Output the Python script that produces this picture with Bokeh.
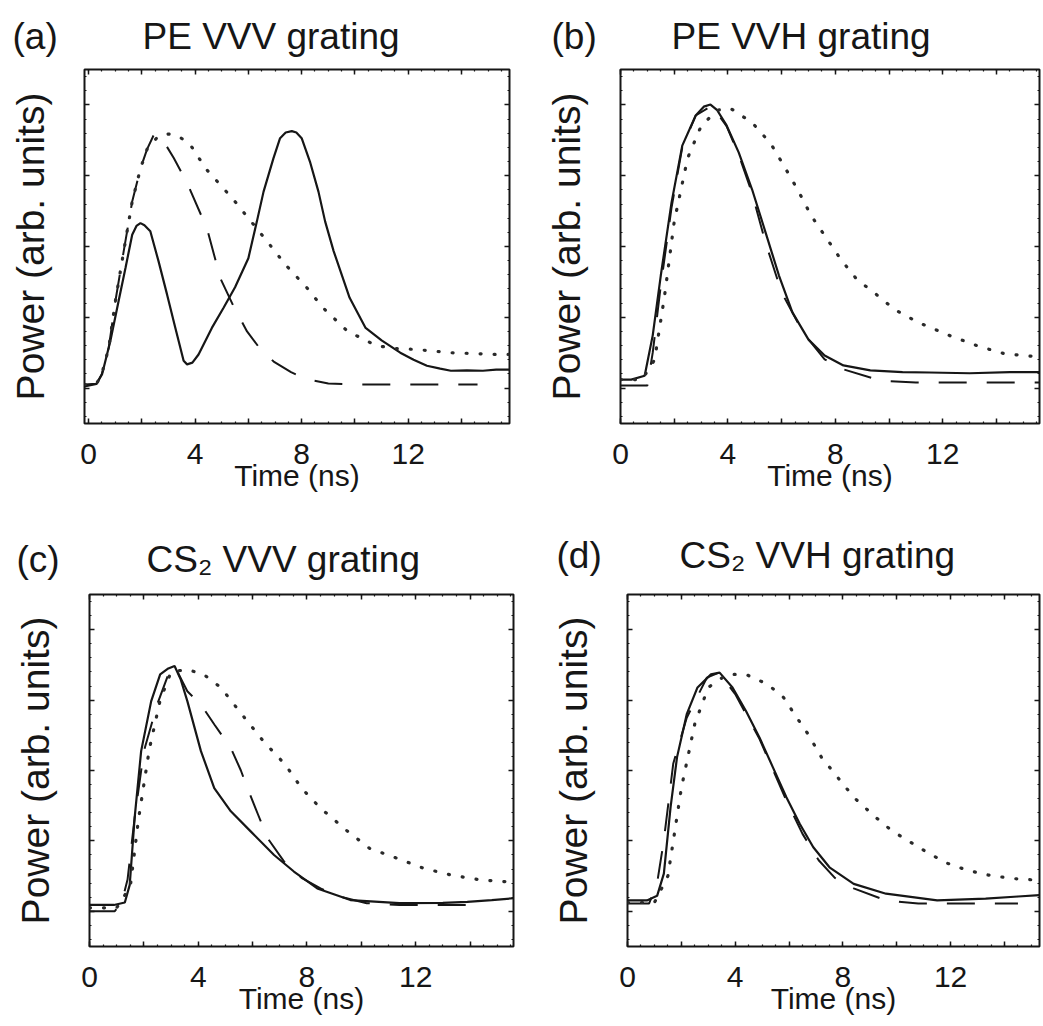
import numpy as np
from bokeh.plotting import figure
from bokeh.layouts import column, row
from bokeh.models import LinearAxis, SingleIntervalTicker, FixedTicker, Range1d, CustomLabelingPolicy
from bokeh.core.properties import value
from bokeh.embed import file_html
from bokeh.resources import INLINE

FONT = "Liberation Sans"
INK = "#161616"

# ---------------- data (time in ns, power in arb. units) ----------------
# (a) PE VVV grating
a_solid_t = [-0.15, 0.3, 0.51, 0.82, 1.13, 1.39, 1.64, 1.8, 1.95, 2.1, 2.32, 2.63, 2.95, 3.26, 3.57, 3.7, 3.9, 4.13,
             4.63, 5.07, 5.5, 6.0, 6.32, 6.57, 6.94, 7.19, 7.4, 7.63, 7.8, 8.0, 8.31, 8.63, 8.88, 9.2, 9.8, 10.4, 11.0,
             11.7, 12.2, 12.7, 13.2, 13.6, 14.2, 14.8, 15.3, 15.8]
a_solid_y = [0.105, 0.112, 0.139, 0.233, 0.346, 0.44, 0.533, 0.558, 0.566, 0.56, 0.543, 0.458, 0.364, 0.27, 0.177,
             0.167, 0.172, 0.195, 0.27, 0.327, 0.385, 0.467, 0.571, 0.655, 0.749, 0.806, 0.822, 0.826, 0.822, 0.806,
             0.74, 0.655, 0.571, 0.487, 0.355, 0.27, 0.235, 0.2, 0.18, 0.163, 0.155, 0.149, 0.15, 0.149, 0.152, 0.152]
a_dash_t = [-0.15, 0.3, 0.5, 0.76, 1.01, 1.32, 1.64, 1.95, 2.2, 2.45, 2.7, 3.2, 3.7, 4.45, 4.95, 5.45, 5.95, 6.45,
            6.95, 7.6, 8.2, 9.0, 10.0, 12.0, 14.6]
a_dash_y = [0.11, 0.112, 0.14, 0.214, 0.346, 0.486, 0.627, 0.72, 0.775, 0.815, 0.812, 0.75, 0.68, 0.55, 0.41, 0.33,
            0.26, 0.21, 0.175, 0.145, 0.125, 0.113, 0.11, 0.11, 0.11]
a_dot_t = [-0.15, 0.3, 0.5, 0.76, 1.01, 1.32, 1.64, 1.95, 2.2, 2.6, 3.0, 3.4, 3.8, 4.4, 5.4, 6.0, 6.7, 7.4, 8.2,
           8.8, 9.7, 10.4, 10.8, 11.5, 12.3, 13.6, 15.4, 15.8]
a_dot_y = [0.11, 0.112, 0.14, 0.214, 0.346, 0.486, 0.627, 0.72, 0.775, 0.81, 0.818, 0.81, 0.79, 0.72, 0.636, 0.58,
           0.515, 0.448, 0.383, 0.327, 0.262, 0.235, 0.22, 0.212, 0.209, 0.2, 0.195, 0.195]

# (b) PE VVH grating
b_solid_t = [0, 0.4, 0.9, 1.2, 1.5, 1.9, 2.3, 2.8, 3.1, 3.35, 3.6, 3.95, 4.4, 4.9, 5.4, 5.9, 6.4, 7.0, 7.6, 8.3, 9.3,
             10.5, 11.5, 13.0, 14.5, 15.6]
b_solid_y = [0.124, 0.124, 0.135, 0.249, 0.418, 0.624, 0.785, 0.87, 0.895, 0.901, 0.885, 0.842, 0.766, 0.661, 0.54,
             0.418, 0.314, 0.237, 0.192, 0.164, 0.15, 0.145, 0.144, 0.142, 0.145, 0.145]
b_dash_t = [0, 1.0, 1.2, 1.5, 1.9, 2.3, 2.8, 3.4, 3.95, 4.4, 4.9, 5.4, 6.0, 6.8, 7.6, 8.3, 9.7, 11.0, 13.0, 15.6]
b_dash_y = [0.107, 0.107, 0.2, 0.39, 0.61, 0.78, 0.87, 0.898, 0.84, 0.76, 0.65, 0.511, 0.37, 0.257, 0.181, 0.153,
            0.121, 0.116, 0.116, 0.116]
b_dot_t = [0, 0.8, 1.27, 1.64, 2.0, 2.5, 3.0, 3.6, 4.1, 4.9, 5.6, 6.1, 6.6, 7.1, 7.7, 8.2, 8.8, 9.6, 10.2, 11.1, 12.3,
           13.3, 14.3, 15.3, 15.6]
b_dot_y = [0.124, 0.124, 0.18, 0.36, 0.57, 0.75, 0.84, 0.885, 0.89, 0.85, 0.79, 0.726, 0.66, 0.587, 0.52, 0.464,
           0.407, 0.36, 0.322, 0.285, 0.247, 0.219, 0.197, 0.19, 0.19]

# (c) CS2 VVV grating
c_solid_t = [0, 0.9, 1.3, 1.48, 1.66, 1.9, 2.27, 2.6, 2.9, 3.13, 3.35, 3.6, 4.1, 4.59, 5.2, 5.93, 6.79, 7.52, 8.38,
             9.6, 11.4, 13.0, 13.9, 14.8, 15.6]
c_solid_y = [0.118, 0.118, 0.125, 0.175, 0.365, 0.555, 0.697, 0.773, 0.79, 0.797, 0.76, 0.697, 0.555, 0.45, 0.384,
             0.327, 0.26, 0.213, 0.165, 0.132, 0.123, 0.124, 0.127, 0.132, 0.137]
c_dash_t = [0, 0.93, 1.2, 1.4, 1.66, 2.0, 2.5, 2.9, 3.13, 3.6, 4.1, 4.6, 5.2, 5.57, 5.81, 6.2, 6.55, 7.16, 7.8, 8.5,
            9.3, 10.2, 11.4, 14.5]
c_dash_y = [0.1, 0.1, 0.13, 0.19, 0.365, 0.555, 0.69, 0.773, 0.797, 0.725, 0.687, 0.63, 0.564, 0.5, 0.45, 0.375,
            0.308, 0.241, 0.195, 0.165, 0.14, 0.123, 0.118, 0.118]
c_dot_t = [0, 1.0, 1.5, 1.8, 2.2, 2.6, 3.0, 3.6, 4.2, 4.84, 5.6, 6.4, 7.2, 7.8, 8.5, 9.5, 10.3, 11.3, 12.3, 13.3,
           14.4, 15.3, 15.6]
c_dot_y = [0.11, 0.11, 0.17, 0.36, 0.56, 0.7, 0.78, 0.787, 0.773, 0.735, 0.66, 0.583, 0.517, 0.45, 0.393, 0.327,
           0.279, 0.251, 0.222, 0.203, 0.189, 0.184, 0.184]

# (d) CS2 VVH grating
d_solid_t = [0, 0.72, 1.1, 1.35, 1.6, 1.84, 2.2, 2.6, 3.1, 3.42, 3.9, 4.4, 4.9, 5.4, 5.9, 6.4, 6.9, 7.5, 8.4, 9.6,
             11.5, 13.3, 14.5, 15.3]
d_solid_y = [0.131, 0.131, 0.144, 0.207, 0.396, 0.538, 0.66, 0.736, 0.773, 0.778, 0.736, 0.669, 0.594, 0.509, 0.424,
             0.348, 0.282, 0.225, 0.178, 0.15, 0.131, 0.136, 0.142, 0.146]
d_dash_t = [0, 0.8, 1.1, 1.35, 1.7, 2.2, 2.95, 3.4, 4.0, 4.9, 5.9, 6.5, 7.1, 7.7, 8.4, 9.6, 10.8, 14.5]
d_dash_y = [0.122, 0.122, 0.18, 0.302, 0.52, 0.65, 0.764, 0.778, 0.717, 0.59, 0.415, 0.32, 0.245, 0.195, 0.165,
            0.131, 0.122, 0.122]
d_dot_t = [0, 1.0, 1.5, 2.0, 2.5, 3.0, 3.7, 4.4, 5.2, 5.8, 6.2, 6.7, 7.2, 7.8, 8.4, 9.2, 9.8, 10.6, 11.2, 11.9, 12.6,
           13.4, 14.3, 15.1, 15.3]
d_dot_y = [0.125, 0.125, 0.2, 0.45, 0.633, 0.736, 0.773, 0.773, 0.745, 0.707, 0.66, 0.604, 0.538, 0.481, 0.424,
           0.368, 0.33, 0.292, 0.264, 0.236, 0.217, 0.203, 0.193, 0.189, 0.189]

letters = ["(a)", "(b)", "(c)", "(d)"]
titles = ["PE VVV grating", "PE VVH grating", "CS\u2082 VVV grating", "CS\u2082 VVH grating"]
x_label = "Time (ns)"
y_label = "Power (arb. units)"

HIDE_ALL = "for (const i of indices) { indices.unset(i) }\nreturn indices"
KEEP_EVEN = "for (const i of indices) { if (i % 2 == 1) indices.unset(i) }\nreturn indices"


def title_strip(width, height, letter, title, letter_x, title_x, mid_y):
    t = figure(width=width, height=height, x_range=Range1d(0, width), y_range=Range1d(0, height),
               output_backend="svg", toolbar_location=None, x_axis_type=None, y_axis_type=None,
               min_border_left=0, min_border_right=0, min_border_top=0, min_border_bottom=0)
    t.grid.visible = False
    t.outline_line_color = None
    t.background_fill_color = "white"
    t.border_fill_color = "white"
    t.text(x=[letter_x], y=[mid_y], text=[letter], text_font=value(FONT), text_font_size="37px",
           text_color=INK, text_align="left", text_baseline="middle")
    t.text(x=[title_x], y=[mid_y], text=[title], text_font=value(FONT), text_font_size="37px",
           text_color=INK, text_align="left", text_baseline="middle")
    return t


def make_panel(xr, size, border, solid, dashed, dotted):
    fw, fh = size
    left, right, top, bottom = border
    p = figure(width=fw, height=fh, x_range=Range1d(*xr), y_range=Range1d(0, 1),
               output_backend="svg", toolbar_location=None,
               min_border_left=left, min_border_right=right, min_border_top=top, min_border_bottom=bottom,
               x_axis_label=x_label, y_axis_label=y_label)
    p.grid.visible = False
    p.background_fill_color = "white"
    p.border_fill_color = "white"
    p.outline_line_color = INK
    p.outline_line_width = 2

    xt = SingleIntervalTicker(interval=2, num_minor_ticks=4)
    yt = FixedTicker(ticks=[0.1, 0.3, 0.5, 0.7, 0.9],
                     minor_ticks=[round(v, 2) for v in np.arange(0.02, 1.0, 0.04)])

    def style_axis(ax, policy):
        ax.axis_line_color = None
        ax.major_tick_in = 5
        ax.major_tick_out = 0
        ax.minor_tick_in = 2
        ax.minor_tick_out = 0
        ax.major_tick_line_color = INK
        ax.minor_tick_line_color = INK
        ax.major_tick_line_width = 1.5
        ax.minor_tick_line_width = 1.2
        ax.major_label_policy = CustomLabelingPolicy(code=policy)

    xa = p.xaxis[0]
    xa.ticker = xt
    style_axis(xa, KEEP_EVEN)
    xa.major_label_text_font = FONT
    xa.major_label_text_font_size = "30px"
    xa.major_label_text_color = INK
    xa.major_label_standoff = 20
    xa.axis_label_text_font = FONT
    xa.axis_label_text_font_size = "30px"
    xa.axis_label_text_font_style = "normal"
    xa.axis_label_text_color = INK
    xa.axis_label_standoff = -8

    ya = p.yaxis[0]
    ya.ticker = yt
    style_axis(ya, HIDE_ALL)
    ya.major_label_standoff = 0
    ya.major_label_text_font_size = "1px"
    ya.axis_label_text_font = FONT
    ya.axis_label_text_font_size = "39px"
    ya.axis_label_text_font_style = "normal"
    ya.axis_label_text_color = INK
    ya.axis_label_standoff = 28

    for side, tk in (("above", xt), ("right", yt)):
        ax = LinearAxis(ticker=tk)
        style_axis(ax, HIDE_ALL)
        ax.major_label_standoff = 0
        ax.major_label_text_font_size = "1px"
        p.add_layout(ax, side)

    p.line(solid[0], solid[1], line_color=INK, line_width=2.2)
    p.line(dashed[0], dashed[1], line_color=INK, line_width=2.0, line_dash="28 20")
    p.line(dotted[0], dotted[1], line_color="#2a2a2a", line_width=3.2, line_dash="1 13", line_cap="round")
    return p


ta = title_strip(520, 58, letters[0], titles[0], 12, 142, 22)
tb = title_strip(523, 58, letters[1], titles[1], 31, 151, 22)
pa = make_panel((-0.15, 15.8), (520, 457), (84, 11, 11, 92),
                (a_solid_t, a_solid_y), (a_dash_t, a_dash_y), (a_dot_t, a_dot_y))
pb = make_panel((0.0, 15.6), (523, 457), (100, 2, 11, 92),
                (b_solid_t, b_solid_y), (b_dash_t, b_dash_y), (b_dot_t, b_dot_y))
tc = title_strip(520, 66, letters[2], titles[2], 16, 146, 22)
td = title_strip(523, 66, letters[3], titles[3], 36, 159, 26)
pc = make_panel((0.0, 15.6), (520, 445), (89, 7, 13, 80),
                (c_solid_t, c_solid_y), (c_dash_t, c_dash_y), (c_dot_t, c_dot_y))
pd = make_panel((0.0, 15.3), (523, 445), (107, 0, 13, 80),
                (d_solid_t, d_solid_y), (d_dash_t, d_dash_y), (d_dot_t, d_dot_y))

layout = column(row(ta, tb), row(pa, pb), row(tc, td), row(pc, pd))
open("out.html", "w").write(file_html(layout, INLINE))
